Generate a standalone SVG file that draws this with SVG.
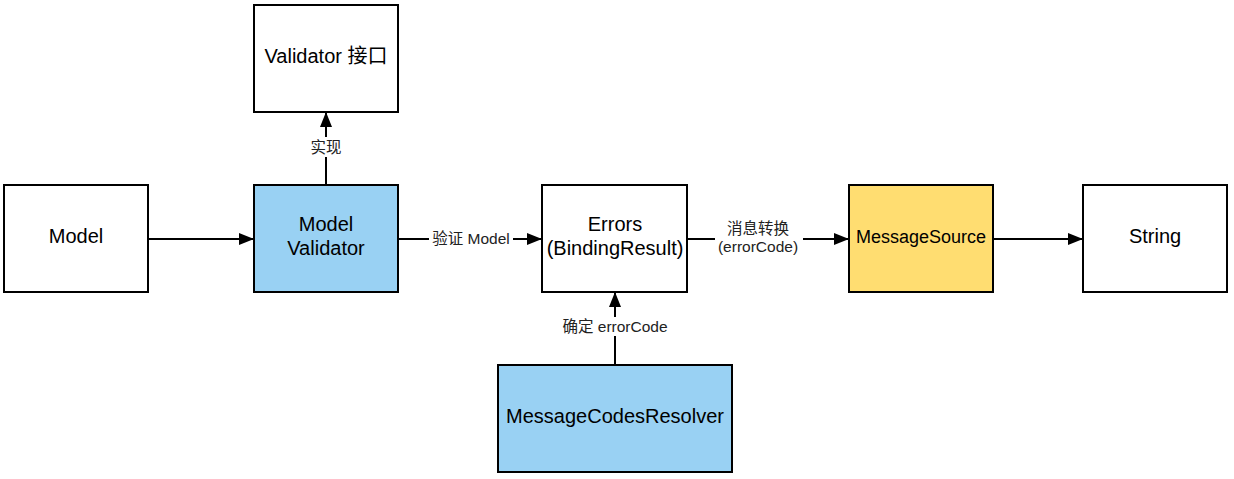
<svg xmlns="http://www.w3.org/2000/svg" width="1234" height="479" viewBox="0 0 1234 479">
<style>
.box{stroke:#000;stroke-width:2}
.w{fill:#fff}.b{fill:#99d1f3}.y{fill:#ffdd71}
.t{font-family:"Liberation Sans","Noto Sans CJK SC",sans-serif;font-size:20px;fill:#000;text-anchor:middle}
.l{font-family:"Liberation Sans","Noto Sans CJK SC",sans-serif;font-size:15.5px;fill:#222;text-anchor:middle}
.c{stroke:#000;stroke-width:2;fill:none;marker-end:url(#ah)}
.bg{fill:#fff}
</style>
<defs>
<marker id="ah" viewBox="0 0 15 12" refX="15" refY="6" markerWidth="15" markerHeight="12" markerUnits="userSpaceOnUse" orient="auto">
<path d="M0,0 L15,6 L0,12 Z" fill="#000"/>
</marker>
</defs>
<rect width="1234" height="479" fill="#fff"/>
<g id="connectors">
<line class="c" x1="148" y1="239" x2="254" y2="239"/>
<line class="c" x1="326" y1="185" x2="326" y2="112"/>
<line class="c" x1="398" y1="239" x2="542" y2="239"/>
<line class="c" x1="687" y1="239" x2="849" y2="239"/>
<line class="c" x1="993" y1="239" x2="1083" y2="239"/>
<line class="c" x1="615" y1="365" x2="615" y2="292"/>
<rect class="bg" x="308" y="137" width="36" height="20"/>
<text class="l" x="326" y="153">实现</text>
<rect class="bg" x="429" y="229" width="84" height="19"/>
<text class="l" x="471" y="244">验证 Model</text>
<rect class="bg" x="715" y="219" width="88" height="37"/>
<text class="l" x="758" y="234">消息转换</text>
<text class="l" x="758" y="252">(errorCode)</text>
<rect class="bg" x="558" y="317" width="114" height="19"/>
<text class="l" x="615" y="332">确定 errorCode</text>
</g>
<g id="model"><rect class="box w" x="4" y="185" width="144" height="107"/><text class="t" x="76" y="243">Model</text></g>
<g id="validator-interface"><rect class="box w" x="254" y="5" width="144" height="107"/><text class="t" x="326" y="63">Validator 接口</text></g>
<g id="model-validator"><rect class="box b" x="254" y="185" width="144" height="107"/><text class="t" x="326" y="231">Model</text><text class="t" x="326" y="255">Validator</text></g>
<g id="errors"><rect class="box w" x="542" y="185" width="145" height="107"/><text class="t" x="615" y="231">Errors</text><text class="t" x="615" y="255">(BindingResult)</text></g>
<g id="message-source"><rect class="box y" x="849" y="185" width="144" height="107"/><text class="t" x="921" y="243" style="font-size:18px">MessageSource</text></g>
<g id="string"><rect class="box w" x="1083" y="185" width="144" height="107"/><text class="t" x="1155" y="243">String</text></g>
<g id="message-codes-resolver"><rect class="box b" x="498" y="365" width="234" height="107"/><text class="t" x="615" y="423">MessageCodesResolver</text></g>
</svg>
